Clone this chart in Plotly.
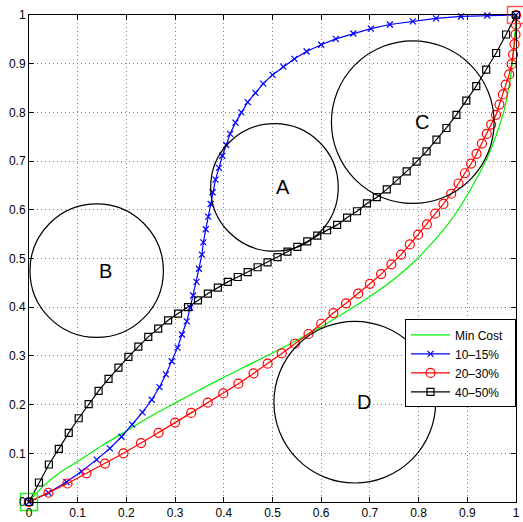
import plotly.graph_objects as go

FONT = "Liberation Sans, Helvetica, Arial, sans-serif"

# ---- data ----
ticks = [0, 0.1, 0.2, 0.3, 0.4, 0.5, 0.6, 0.7, 0.8, 0.9, 1]
tick_text = ["0", "0.1", "0.2", "0.3", "0.4", "0.5", "0.6", "0.7", "0.8", "0.9", "1"]
series_names = ["Min Cost", "10–15%", "20–30%", "40–50%"]

min_cost_x = [0, 0.01, 0.03, 0.06, 0.10, 0.15, 0.20, 0.25, 0.30, 0.35, 0.40, 0.45, 0.50,
              0.55, 0.60, 0.65, 0.70, 0.75, 0.80, 0.85, 0.88, 0.91, 0.94, 0.96, 0.975,
              0.988, 0.995, 1.0]
min_cost_y = [0, 0.012, 0.033, 0.058, 0.083, 0.116, 0.146, 0.176, 0.203, 0.230, 0.256,
              0.281, 0.306, 0.332, 0.360, 0.390, 0.422, 0.458, 0.502, 0.557, 0.598,
              0.648, 0.705, 0.755, 0.802, 0.868, 0.925, 1.0]

s10_x = [0, 0.040, 0.077, 0.108, 0.139, 0.166, 0.190, 0.212, 0.233, 0.252, 0.268, 0.281,
         0.293, 0.305, 0.314, 0.324, 0.331, 0.337, 0.344, 0.349, 0.355, 0.358, 0.363,
         0.368, 0.373, 0.377, 0.383, 0.390, 0.397, 0.405, 0.413, 0.424, 0.436, 0.449,
         0.465, 0.481, 0.500, 0.522, 0.545, 0.570, 0.600, 0.630, 0.666, 0.702, 0.741,
         0.788, 0.836, 0.887, 0.941, 1.0]
s10_y = [0, 0.019, 0.041, 0.063, 0.087, 0.110, 0.134, 0.159, 0.184, 0.210, 0.236, 0.262,
         0.289, 0.317, 0.344, 0.371, 0.399, 0.424, 0.452, 0.479, 0.508, 0.533, 0.560,
         0.586, 0.612, 0.636, 0.662, 0.686, 0.711, 0.733, 0.756, 0.779, 0.800, 0.821,
         0.840, 0.859, 0.877, 0.894, 0.910, 0.925, 0.939, 0.951, 0.962, 0.972, 0.9805,
         0.987, 0.993, 0.997, 0.999, 1.0]

s20_x = [0, 0.040, 0.079, 0.118, 0.156, 0.194, 0.230, 0.266, 0.300, 0.333, 0.367, 0.399,
         0.430, 0.461, 0.490, 0.519, 0.546, 0.574, 0.600, 0.625, 0.651, 0.676, 0.700,
         0.723, 0.744, 0.764, 0.782, 0.799, 0.817, 0.834, 0.851, 0.867, 0.882, 0.895,
         0.908, 0.919, 0.930, 0.940, 0.949, 0.959, 0.966, 0.973, 0.979, 0.986, 0.991,
         0.994, 0.997, 0.999, 1.0, 1.0]
s20_y = [0, 0.019, 0.038, 0.059, 0.079, 0.100, 0.121, 0.142, 0.163, 0.183, 0.204, 0.223,
         0.243, 0.264, 0.284, 0.305, 0.325, 0.345, 0.366, 0.388, 0.408, 0.428, 0.448,
         0.468, 0.488, 0.508, 0.529, 0.549, 0.570, 0.592, 0.612, 0.633, 0.654, 0.675,
         0.695, 0.715, 0.736, 0.756, 0.775, 0.795, 0.816, 0.837, 0.857, 0.878, 0.899,
         0.919, 0.940, 0.960, 0.980, 1.0]

s40_x = [0, 0.0204, 0.0408, 0.0612, 0.0816, 0.102, 0.1224, 0.1429, 0.1633, 0.1837, 0.2041,
         0.2245, 0.2449, 0.2653, 0.2857, 0.3061, 0.3265, 0.3469, 0.3673, 0.3878, 0.4082,
         0.4286, 0.449, 0.4694, 0.4898, 0.5102, 0.5306, 0.551, 0.5714, 0.5918, 0.6122,
         0.6327, 0.6531, 0.6735, 0.6939, 0.7143, 0.7347, 0.7551, 0.7755, 0.7959, 0.8163,
         0.8367, 0.8571, 0.8776, 0.898, 0.9184, 0.9388, 0.9592, 0.9796, 1.0]
s40_y = [0, 0.040, 0.077, 0.109, 0.142, 0.172, 0.201, 0.228, 0.253, 0.276, 0.298, 0.319,
         0.339, 0.356, 0.373, 0.387, 0.400, 0.414, 0.428, 0.440, 0.452, 0.462, 0.472,
         0.482, 0.492, 0.503, 0.514, 0.524, 0.535, 0.547, 0.558, 0.569, 0.584, 0.597,
         0.613, 0.626, 0.642, 0.660, 0.679, 0.699, 0.720, 0.744, 0.768, 0.795, 0.824,
         0.854, 0.888, 0.922, 0.960, 1.0]

# start / end markers
start_x, start_y = [0], [0]
end_x, end_y = [1], [1]

# circles: label, centre x, centre y, radius
circle_labels = ["A", "B", "C", "D"]
circle_cx = [0.504, 0.139, 0.788, 0.669]
circle_cy = [0.646, 0.475, 0.780, 0.205]
circle_r = [0.131, 0.137, 0.167, 0.166]

PAD = "\u00a0\u00a0"  # small right padding inside the legend box

fig = go.Figure()

fig.add_trace(go.Scatter(x=min_cost_x, y=min_cost_y, mode="lines", name=series_names[0] + PAD,
                         line=dict(color="#00f000", width=1.2, shape="spline", smoothing=0.5),
                         cliponaxis=False))
fig.add_trace(go.Scatter(x=s10_x, y=s10_y, mode="lines+markers", name=series_names[1] + PAD,
                         line=dict(color="#0000ff", width=1.2),
                         marker=dict(symbol="x-thin-open", size=6, color="#0000ff",
                                     line=dict(color="#0000ff", width=1.2)),
                         cliponaxis=False))
fig.add_trace(go.Scatter(x=s20_x, y=s20_y, mode="lines+markers", name=series_names[2] + PAD,
                         line=dict(color="#ff0000", width=1.2),
                         marker=dict(symbol="circle-open", size=9, color="#ff0000",
                                     line=dict(color="#ff0000", width=1.2)),
                         cliponaxis=False))
fig.add_trace(go.Scatter(x=s40_x, y=s40_y, mode="lines+markers", name=series_names[3] + PAD,
                         line=dict(color="#000000", width=1.2),
                         marker=dict(symbol="square-open", size=7, color="#000000",
                                     line=dict(color="#000000", width=1.2)),
                         cliponaxis=False))
fig.add_trace(go.Scatter(x=start_x, y=start_y, mode="markers", showlegend=False,
                         marker=dict(symbol="square-open", size=17, color="#22ee22",
                                     line=dict(color="#22ee22", width=1.5)),
                         cliponaxis=False))
fig.add_trace(go.Scatter(x=end_x, y=end_y, mode="markers", showlegend=False,
                         marker=dict(symbol="square-open", size=17, color="#ff5555",
                                     line=dict(color="#ff5555", width=1.5)),
                         cliponaxis=False))

shapes = []
annotations = []
for lab, cx, cy, r in zip(circle_labels, circle_cx, circle_cy, circle_r):
    shapes.append(dict(type="circle", xref="x", yref="y",
                       x0=cx - r, x1=cx + r, y0=cy - r, y1=cy + r,
                       line=dict(color="black", width=1.2), layer="above"))
    annotations.append(dict(x=cx, y=cy, xref="x", yref="y", text=lab, showarrow=False,
                            xanchor="left", yanchor="middle",
                            font=dict(family=FONT, size=20, color="black")))

axis_common = dict(range=[0, 1], tickvals=ticks, ticktext=tick_text, automargin=False,
                   showgrid=True, gridcolor="#808080", griddash="1px,3px", gridwidth=1,
                   zeroline=False, showline=True, linecolor="black", linewidth=1,
                   mirror="ticks", ticks="inside", ticklen=5, tickcolor="black",
                   tickfont=dict(family=FONT, size=12, color="black"))

fig.update_layout(
    width=523, height=522,
    margin=dict(l=29, r=7, t=15, b=20),
    paper_bgcolor="white", plot_bgcolor="white",
    xaxis=dict(**axis_common),
    yaxis=dict(**axis_common),
    shapes=shapes,
    annotations=annotations,
    showlegend=True,
    legend=dict(x=1, xanchor="right", y=0.375, yanchor="top",
                bgcolor="white", bordercolor="black", borderwidth=1,
                font=dict(family=FONT, size=12, color="black"),
                tracegroupgap=0, itemwidth=39),
    font=dict(family=FONT),
)

fig.write_html("out.html",
               config={"displayModeBar": False},
               post_script="document.body.style.margin='0';document.body.style.padding='0';"
                           "document.body.style.overflow='hidden';")
